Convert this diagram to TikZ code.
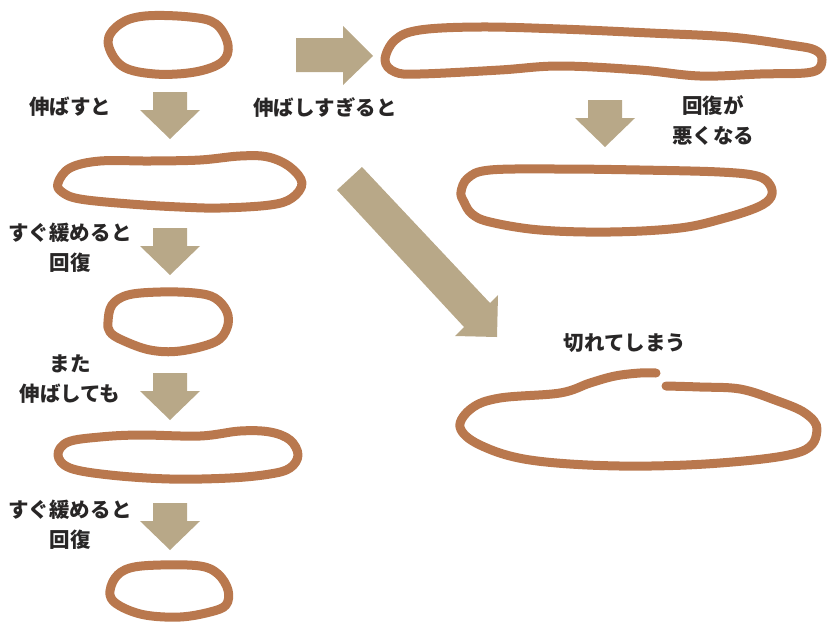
\documentclass[tikz,border=0pt]{standalone}
\usepackage{fontspec}
\newfontfamily\jpfont{Noto Sans CJK JP}
\definecolor{band}{RGB}{185,120,78}
\definecolor{arrowfill}{RGB}{184,168,136}
\definecolor{ink}{RGB}{40,38,38}
\tikzset{
	bandline/.style={draw=band,line width=9pt,line cap=round,line join=round},
	label/.style={text=ink,font=\jpfont\bfseries\fontsize{20.5pt}{30pt}\selectfont,align=center,inner sep=0pt}
}
\begin{document}
\begin{tikzpicture}[x=1pt,y=-1pt]
		\useasboundingbox (0,0) rectangle (829,633);
		
		\foreach \x/\y in {170/92,170/228,170/373,170/503,605/100}
			\fill[arrowfill] ({\x-17},\y) -- ({\x+17},\y) -- ({\x+17},{\y+18}) -- ({\x+30},{\y+18}) -- (\x,{\y+47}) -- ({\x-30},{\y+18}) -- ({\x-17},{\y+18}) -- cycle;
		\fill[arrowfill] (296,38) -- (343,38) -- (343,26) -- (373,56) -- (343,85) -- (343,72) -- (296,72) -- cycle;
		\fill[arrowfill] (337,190) -- (362,167) -- (490,303) -- (498,295) -- (497,337) -- (455,336) -- (464,327) -- cycle;
		
		\draw[bandline] plot[smooth cycle,tension=0.6] coordinates {(108,42) (120,24) (145,16) (190,17) (216,24) (228,45) (222,62) (195,72) (155,74) (122,66)};
		\draw[bandline] plot[smooth cycle,tension=0.6] coordinates {(58,183) (70,168) (100,161) (150,161) (200,160) (240,156) (268,157) (290,167) (302,183) (292,198) (270,205) (220,208) (180,207) (130,204) (80,199) (62,192)};
		\draw[bandline] plot[smooth cycle,tension=0.6] coordinates {(108,322) (112,305) (128,295) (160,292) (195,293) (215,298) (227,312) (227,328) (215,342) (180,351) (150,350) (122,340) (110,332)};
		\draw[bandline] plot[smooth cycle,tension=0.6] coordinates {(58,455) (68,442) (100,437) (140,435) (200,436) (240,431) (270,432) (290,440) (298,455) (290,468) (270,474) (230,478) (170,479) (110,475) (70,468)};
		\draw[bandline] plot[smooth cycle,tension=0.6] coordinates {(110,595) (115,578) (130,568) (160,565) (200,566) (218,574) (228,590) (226,605) (210,612) (180,617) (145,615) (120,606)};
		\draw[bandline] plot[smooth cycle,tension=0.6] coordinates {(385,60) (395,40) (420,30) (480,27) (560,29) (650,33) (730,37) (790,45) (815,50) (822,60) (812,72) (760,74) (700,76) (640,70) (560,66) (500,70) (420,74) (395,72)};
		\draw[bandline] plot[smooth cycle,tension=0.6] coordinates {(461,192) (468,178) (490,170) (560,169) (640,170) (720,172) (757,176) (770,185) (771,197) (758,207) (725,218) (680,228) (610,232) (540,230) (490,222) (472,214) (464,202)};
		\draw[bandline] plot[smooth,tension=0.6] coordinates {(666,386) (700,387) (740,389) (775,400) (805,413) (817,430) (800,452) (720,463) (620,466) (530,460) (480,445) (460,427) (472,408) (500,398) (560,393) (590,383) (615,376) (640,373) (656,373)};
		
		\node[label] (stretch) at (70,107) {伸ばすと};
		\node[label] (overstretch) at (325,107) {伸ばしすぎると};
		\node[label] (slowback) at (713,120) {回復が\\悪くなる};
		\node[label] (release1) at (70,248) {すぐ緩めると\\回復};
		\node[label] (again) at (70,379) {また\\伸ばしても};
		\node[label] (release2) at (70,525) {すぐ緩めると\\回復};
		\node[label] (snap) at (625,343) {切れてしまう};
	\end{tikzpicture}
\end{document}
